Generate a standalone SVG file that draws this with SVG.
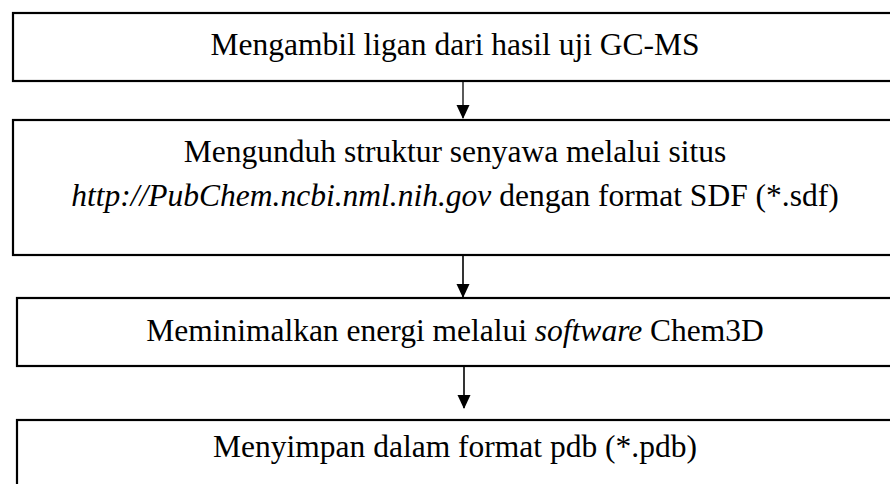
<svg xmlns="http://www.w3.org/2000/svg" width="890" height="484" viewBox="0 0 890 484">
<defs>
<marker id="ah" markerWidth="14" markerHeight="15" refX="14" refY="7" orient="auto" markerUnits="userSpaceOnUse" viewBox="0 0 15 14">
<path d="M0,0 L15,7 L0,14 Z" fill="#000"/>
</marker>
<style>
.box{fill:#fff;stroke:#000;stroke-width:2.2}
.t{font-family:"Liberation Serif","Times New Roman",serif;font-size:31.5px;fill:#000;text-anchor:middle}
.i{font-style:italic}
.c{stroke:#000;stroke-width:1.3;fill:none}
</style>
</defs>
<rect width="890" height="484" fill="#fff"/>
<g id="n1">
<rect class="box" x="13" y="13" width="900" height="68"/>
<text class="t" x="455" y="55">Mengambil ligan dari hasil uji GC-MS</text>
</g>
<g id="n2">
<rect class="box" x="13" y="120" width="900" height="135"/>
<text class="t" x="455" y="162">Mengunduh struktur senyawa melalui situs</text>
<text class="t" x="455" y="206"><tspan class="i">http://PubChem.ncbi.nml.nih.gov</tspan> dengan format SDF (*.sdf)</text>
</g>
<g id="n3">
<rect class="box" x="17" y="298" width="900" height="68"/>
<text class="t" x="455" y="341">Meminimalkan energi melalui <tspan class="i">software</tspan> Chem3D</text>
</g>
<g id="n4">
<rect class="box" x="17" y="420" width="900" height="100"/>
<text class="t" x="455" y="457">Menyimpan dalam format pdb (*.pdb)</text>
</g>
<g id="connectors">
<line class="c" x1="463" y1="82" x2="463" y2="118" marker-end="url(#ah)"/>
<line class="c" x1="463" y1="256" x2="463" y2="297" marker-end="url(#ah)" style="stroke-width:1.6"/>
<line class="c" x1="464" y1="367" x2="464" y2="408" marker-end="url(#ah)" style="stroke-width:1.6"/>
</g>
</svg>
